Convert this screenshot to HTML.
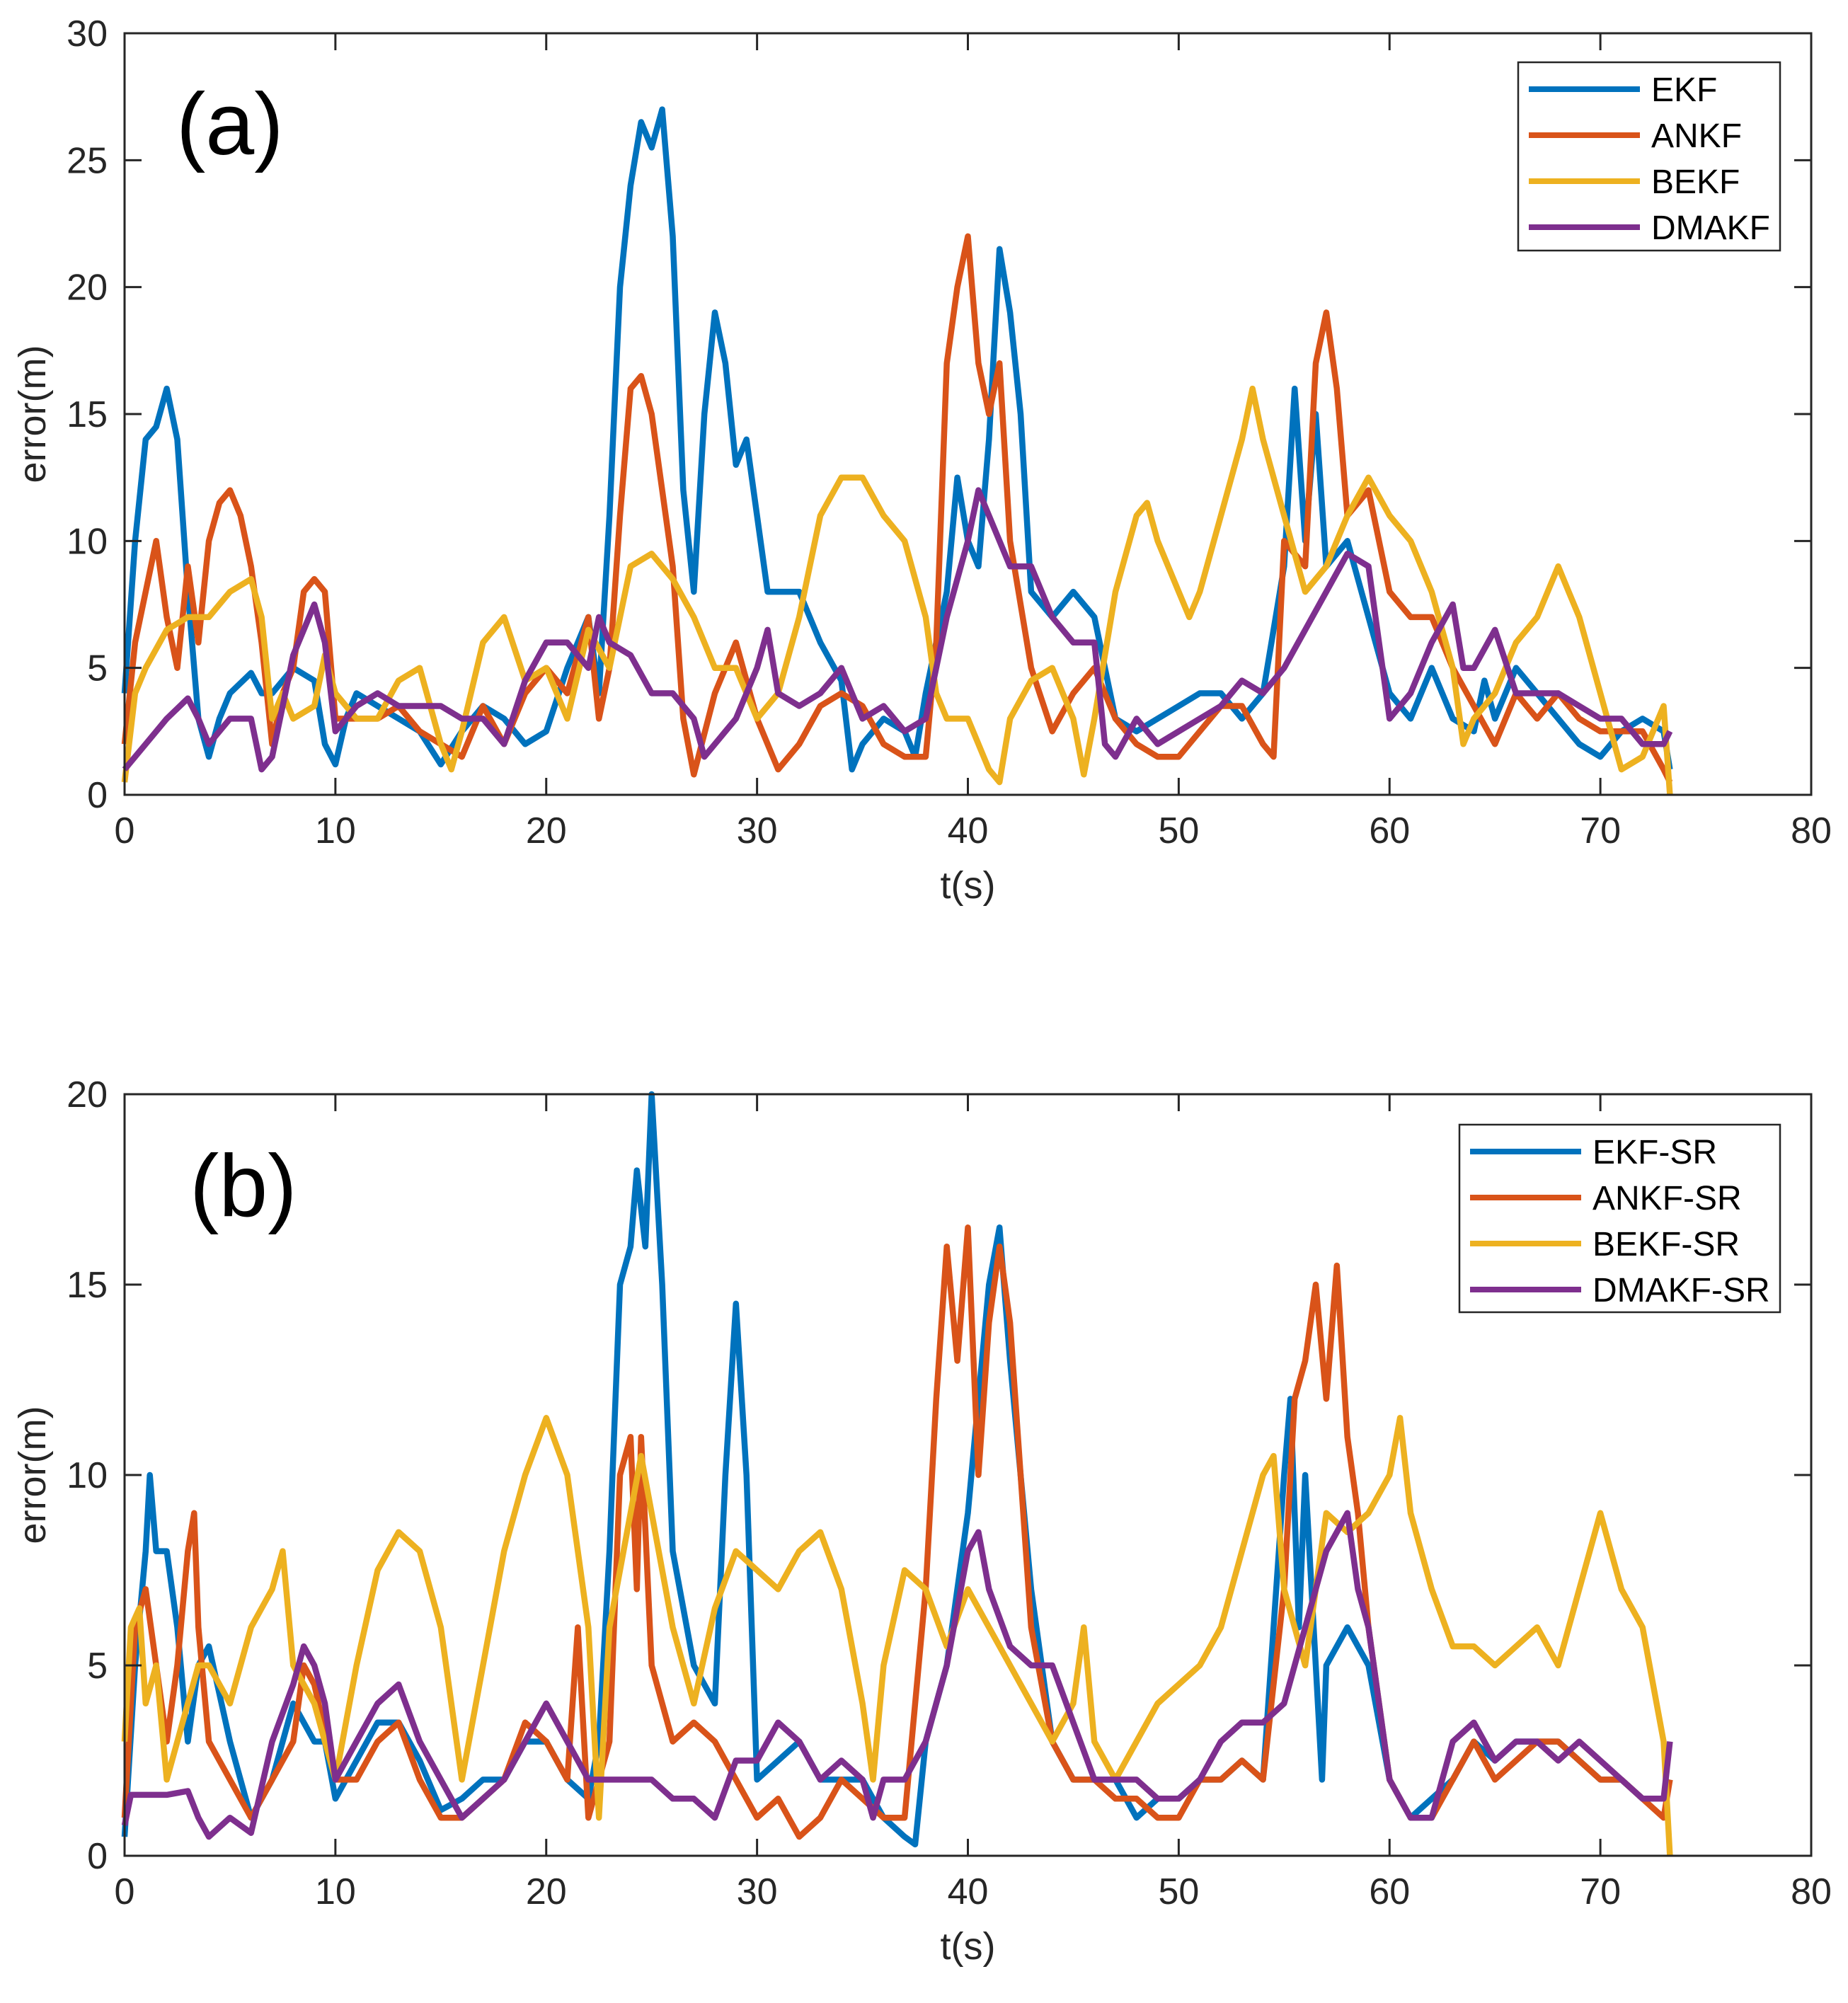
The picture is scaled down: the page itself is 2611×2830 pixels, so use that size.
<!DOCTYPE html>
<html><head><meta charset="utf-8"><style>
html,body{margin:0;padding:0;background:#fff;}
svg{display:block;font-family:"Liberation Sans",Arial,sans-serif;}
</style></head><body>
<svg id="chart" width="2611" height="2830" viewBox="0 0 2611 2830" xmlns="http://www.w3.org/2000/svg">
<rect width="2611" height="2830" fill="#fff"/>
<g id="pa"></g>
<g id="pb"></g>
</svg>
<script>
const xTicks=[0,10,20,30,40,50,60,70,80];
const yTicksA=[0,5,10,15,20,25,30];
const yTicksB=[0,5,10,15,20];
const namesA=["EKF","ANKF","BEKF","DMAKF"];
const namesB=["EKF-SR","ANKF-SR","BEKF-SR","DMAKF-SR"];
const ekfA=[[0,4],[0.5,10],[1,14],[1.5,14.5],[2,16],[2.5,14],[3,8],[3.5,3],[4,1.5],[4.5,3],[5,4],[6,4.8],[6.5,4],[7,4],[8,5],[9,4.5],[9.5,2],[10,1.2],[10.5,3],[11,4],[12,3.5],[13,3],[14,2.5],[15,1.2],[16,2.5],[17,3.5],[18,3],[19,2],[20,2.5],[21,5],[22,7],[22.5,4],[23,11],[23.5,20],[24,24],[24.5,26.5],[25,25.5],[25.5,27],[26,22],[26.5,12],[27,8],[27.5,15],[28,19],[28.5,17],[29,13],[29.5,14],[30,11],[30.5,8],[31,8],[32,8],[33,6],[34,4.5],[34.5,1],[35,2],[36,3],[37,2.5],[37.5,1.5],[38,4],[39,8],[39.5,12.5],[40,10],[40.5,9],[41,14],[41.5,21.5],[42,19],[42.5,15],[43,8],[44,7],[45,8],[46,7],[47,3],[48,2.5],[49,3],[50,3.5],[51,4],[52,4],[53,3],[54,4],[55,9],[55.5,16],[56,10],[56.5,15],[57,9],[58,10],[59,7],[60,4],[61,3],[62,5],[62.5,4],[63,3],[64,2.5],[64.5,4.5],[65,3],[66,5],[67,4],[68,3],[69,2],[70,1.5],[71,2.5],[72,3],[73,2.5],[73.3,1]];
const ankfA=[[0,2],[0.5,6],[1,8],[1.5,10],[2,7],[2.5,5],[3,9],[3.5,6],[4,10],[4.5,11.5],[5,12],[5.5,11],[6,9],[6.5,6],[7,2],[7.5,4],[8,5],[8.5,8],[9,8.5],[9.5,8],[10,3],[11,3],[12,3],[13,3.5],[14,2.5],[15,2],[16,1.5],[17,3.5],[18,2],[19,4],[20,5],[21,4],[22,7],[22.5,3],[23,5],[23.5,11],[24,16],[24.5,16.5],[25,15],[26,9],[26.5,3],[27,0.8],[28,4],[29,6],[30,3],[31,1],[32,2],[33,3.5],[34,4],[35,3.5],[36,2],[37,1.5],[38,1.5],[38.5,6],[39,17],[39.5,20],[40,22],[40.5,17],[41,15],[41.5,17],[42,10],[43,5],[44,2.5],[45,4],[46,5],[47,3],[48,2],[49,1.5],[50,1.5],[51,2.5],[52,3.5],[53,3.5],[54,2],[54.5,1.5],[55,10],[56,9],[56.5,17],[57,19],[57.5,16],[58,11],[59,12],[60,8],[61,7],[62,7],[63,5],[64,3.5],[65,2],[66,4],[67,3],[68,4],[69,3],[70,2.5],[71,2.5],[72,2.5],[73,1],[73.3,0.5]];
const bekfA=[[0,0.5],[0.5,4],[1,5],[2,6.5],[3,7],[4,7],[5,8],[6,8.5],[6.5,7],[7,3],[7.5,4],[8,3],[9,3.5],[9.5,5.5],[10,4],[11,3],[12,3],[13,4.5],[14,5],[15,2],[15.5,1],[16,2.5],[17,6],[18,7],[19,4.5],[20,5],[21,3],[22,6.5],[23,5],[24,9],[25,9.5],[26,8.5],[27,7],[28,5],[29,5],[30,3],[31,4],[32,7],[33,11],[34,12.5],[35,12.5],[36,11],[37,10],[38,7],[38.5,4],[39,3],[40,3],[41,1],[41.5,0.5],[42,3],[43,4.5],[44,5],[45,3],[45.5,0.8],[46,3],[47,8],[48,11],[48.5,11.5],[49,10],[50,8],[50.5,7],[51,8],[52,11],[53,14],[53.5,16],[54,14],[55,11],[56,8],[57,9],[58,11],[59,12.5],[60,11],[61,10],[62,8],[63,5],[63.5,2],[64,3],[65,4],[66,6],[67,7],[68,9],[68.5,8],[69,7],[70,4],[71,1],[72,1.5],[73,3.5],[73.3,0]];
const dmakfA=[[0,1],[1,2],[2,3],[3,3.8],[3.5,3],[4,2],[5,3],[6,3],[6.5,1],[7,1.5],[8,5.5],[9,7.5],[9.5,6],[10,2.5],[11,3.5],[12,4],[13,3.5],[14,3.5],[15,3.5],[16,3],[17,3],[18,2],[19,4.5],[20,6],[21,6],[22,5],[22.5,7],[23,6],[24,5.5],[25,4],[26,4],[27,3],[27.5,1.5],[28,2],[29,3],[30,5],[30.5,6.5],[31,4],[32,3.5],[33,4],[34,5],[35,3],[36,3.5],[37,2.5],[38,3],[39,7],[40,10],[40.5,12],[41,11],[42,9],[43,9],[44,7],[45,6],[46,6],[46.5,2],[47,1.5],[48,3],[49,2],[50,2.5],[51,3],[52,3.5],[53,4.5],[54,4],[55,5],[56,6.5],[57,8],[58,9.5],[59,9],[59.5,6],[60,3],[61,4],[62,6],[63,7.5],[63.5,5],[64,5],[65,6.5],[66,4],[67,4],[68,4],[69,3.5],[70,3],[71,3],[72,2],[73,2],[73.3,2.5]];
const ekfB=[[0,0.5],[0.5,5],[1,8],[1.2,10],[1.5,8],[2,8],[2.5,6],[3,3],[3.5,5],[4,5.5],[5,3],[5.5,2],[6,1],[7,2],[8,4],[9,3],[9.5,3],[10,1.5],[11,2.5],[12,3.5],[13,3.5],[14,2.5],[15,1.2],[16,1.5],[17,2],[18,2],[19,3],[20,3],[21,2],[22,1.5],[22.5,3],[23,8],[23.5,15],[24,16],[24.3,18],[24.7,16],[25,20],[25.5,15],[26,8],[27,5],[28,4],[28.5,10],[29,14.5],[29.5,10],[30,2],[31,2.5],[32,3],[33,2],[34,2],[35,2],[36,1],[37,0.5],[37.5,0.3],[38,3],[39,5],[40,9],[40.5,12],[41,15],[41.5,16.5],[42,13],[43,7],[44,3],[45,2],[46,2],[47,2],[48,1],[49,1.5],[50,1.5],[51,2],[52,2],[53,2.5],[54,2],[55,10],[55.3,12],[55.7,6],[56,10],[56.5,5],[56.8,2],[57,5],[58,6],[59,5],[60,2],[61,1],[62,1.5],[63,2],[64,3],[65,2.5],[66,3],[67,3],[68,3],[69,2.5],[70,2],[71,2],[72,1.5],[73,1.5],[73.3,2]];
const ankfB=[[0,1],[0.5,6],[1,7],[1.5,5],[2,3],[2.5,5],[3,8],[3.3,9],[3.5,6],[4,3],[5,2],[6,1],[7,2],[8,3],[8.5,5],[9,4.5],[10,2],[11,2],[12,3],[13,3.5],[14,2],[15,1],[16,1],[17,1.5],[18,2],[19,3.5],[20,3],[21,2],[21.5,6],[22,1],[23,3],[23.5,10],[24,11],[24.3,7],[24.5,11],[25,5],[26,3],[27,3.5],[28,3],[29,2],[30,1],[31,1.5],[32,0.5],[33,1],[34,2],[35,1.5],[36,1],[37,1],[38,7],[38.5,12],[39,16],[39.5,13],[40,16.5],[40.5,10],[41,14],[41.5,16],[42,14],[43,6],[44,3],[45,2],[46,2],[47,1.5],[48,1.5],[49,1],[50,1],[51,2],[52,2],[53,2.5],[54,2],[55,7],[55.5,12],[56,13],[56.5,15],[57,12],[57.5,15.5],[58,11],[58.5,9],[59,6],[60,2],[61,1],[62,1],[63,2],[64,3],[65,2],[66,2.5],[67,3],[68,3],[69,2.5],[70,2],[71,2],[72,1.5],[73,1],[73.3,2]];
const bekfB=[[0,3],[0.3,6],[0.7,6.5],[1,4],[1.5,5],[2,2],[2.5,3],[3,4],[3.5,5],[4,5],[5,4],[6,6],[7,7],[7.5,8],[8,5],[9,4],[10,2],[11,5],[12,7.5],[13,8.5],[14,8],[15,6],[16,2],[17,5],[18,8],[19,10],[20,11.5],[21,10],[22,6],[22.5,1],[23,6],[24,9],[24.5,10.5],[25,9],[26,6],[27,4],[28,6.5],[29,8],[30,7.5],[31,7],[32,8],[33,8.5],[34,7],[35,4],[35.5,2],[36,5],[37,7.5],[38,7],[39,5.5],[40,7],[41,6],[42,5],[43,4],[44,3],[45,4],[45.5,6],[46,3],[47,2],[48,3],[49,4],[50,4.5],[51,5],[52,6],[53,8],[54,10],[54.5,10.5],[55,7],[56,5],[57,9],[58,8.5],[59,9],[60,10],[60.5,11.5],[61,9],[62,7],[63,5.5],[64,5.5],[65,5],[66,5.5],[67,6],[68,5],[69,7],[70,9],[71,7],[72,6],[73,3],[73.3,0]];
const dmakfB=[[0,0.8],[0.3,1.6],[2,1.6],[3,1.7],[3.5,1],[4,0.5],[5,1],[6,0.6],[7,3],[8,4.5],[8.5,5.5],[9,5],[9.5,4],[10,2],[11,3],[12,4],[13,4.5],[14,3],[15,2],[16,1],[17,1.5],[18,2],[19,3],[20,4],[21,3],[22,2],[23,2],[24,2],[25,2],[26,1.5],[27,1.5],[28,1],[29,2.5],[30,2.5],[31,3.5],[32,3],[33,2],[34,2.5],[35,2],[35.5,1],[36,2],[37,2],[38,3],[39,5],[40,8],[40.5,8.5],[41,7],[42,5.5],[43,5],[44,5],[45,3.5],[46,2],[47,2],[48,2],[49,1.5],[50,1.5],[51,2],[52,3],[53,3.5],[54,3.5],[55,4],[56,6],[57,8],[58,9],[58.5,7],[59,6],[60,2],[61,1],[62,1],[63,3],[64,3.5],[65,2.5],[66,3],[67,3],[68,2.5],[69,3],[70,2.5],[71,2],[72,1.5],[73,1.5],[73.3,3]];

const colors=["#0072BD","#D95319","#EDB120","#7E2F8E"];
const NS="http://www.w3.org/2000/svg";
function mk(tag,attrs,parent){const e=document.createElementNS(NS,tag);for(const k in attrs)e.setAttribute(k,attrs[k]);parent.appendChild(e);return e;}

function drawPanel(g,key,top,bottom,yMax,yTicks,series,names,label,labelPos,leg){
  const L=176,R=2559;
  const xs=t=>L+(t/80)*(R-L);
  const ys=v=>bottom-(v/yMax)*(bottom-top);
  const box=mk('rect',{x:L,y:top,width:R-L,height:bottom-top,fill:'#fff',stroke:'none'},g);
  
  
  series.forEach((s,i)=>{
    const p=mk('polyline',{points:s.map(d=>xs(d[0]).toFixed(1)+','+ys(d[1]).toFixed(1)).join(' '),fill:'none',stroke:colors[i],'stroke-width':8.5,'stroke-linejoin':'round'},g);
    
    
  });
  const fr=mk('rect',{x:L,y:top,width:R-L,height:bottom-top,fill:'none',stroke:'#262626','stroke-width':3},g);
  
  
  xTicks.forEach(t=>{
    const x=xs(t);
    mk('line',{x1:x,y1:bottom,x2:x,y2:bottom-24,stroke:'#262626','stroke-width':3},g);
    mk('line',{x1:x,y1:top,x2:x,y2:top+24,stroke:'#262626','stroke-width':3},g);
    const tx=mk('text',{x:x,y:bottom+68,'font-size':52,fill:'#262626','text-anchor':'middle'},g);
    tx.textContent=t;
    
    
  });
  yTicks.forEach(v=>{
    const y=ys(v);
    mk('line',{x1:L,y1:y,x2:L+24,y2:y,stroke:'#262626','stroke-width':3},g);
    mk('line',{x1:R,y1:y,x2:R-24,y2:y,stroke:'#262626','stroke-width':3},g);
    const ty=mk('text',{x:152,y:y+18,'font-size':52,fill:'#262626','text-anchor':'end'},g);
    ty.textContent=v;
    
    
  });
  const xl=mk('text',{x:(L+R)/2,y:bottom+146,'font-size':54,fill:'#262626','text-anchor':'middle'},g);
  xl.textContent='t(s)';
  
  
  const cy=(top+bottom)/2;
  const yl=mk('text',{x:64,y:cy,'font-size':54,fill:'#262626','text-anchor':'middle',transform:'rotate(-90 64 '+cy+')'},g);
  yl.textContent='error(m)';
  
  
  const pl=mk('text',{x:labelPos[0],y:labelPos[1],'font-size':124,fill:'#000'},g);
  pl.textContent=label;
  
  
  const lg=mk('g',{},g);
  
  
  mk('rect',{x:leg.x,y:leg.y,width:leg.w,height:leg.h,fill:'#fff',stroke:'#262626','stroke-width':2.5},lg);
  names.forEach((n,i)=>{
    const y=leg.y+38+i*65;
    const ent=mk('g',{},lg);
    
    
    mk('line',{x1:leg.x+15,y1:y,x2:leg.x+172,y2:y,stroke:colors[i],'stroke-width':8},ent);
    const t=mk('text',{x:leg.x+188,y:y+17,'font-size':48,fill:'#000'},ent);
    t.textContent=n;
  });
}
drawPanel(document.getElementById('pa'),'panel-a',47,1123,30,yTicksA,[ekfA,ankfA,bekfA,dmakfA],namesA,'(a)',[249,218],{x:2145,y:88,w:370,h:266});
drawPanel(document.getElementById('pb'),'panel-b',1546,2622,20,yTicksB,[ekfB,ankfB,bekfB,dmakfB],namesB,'(b)',[268,1718],{x:2062,y:1589,w:453,h:265});
</script>
</body></html>
